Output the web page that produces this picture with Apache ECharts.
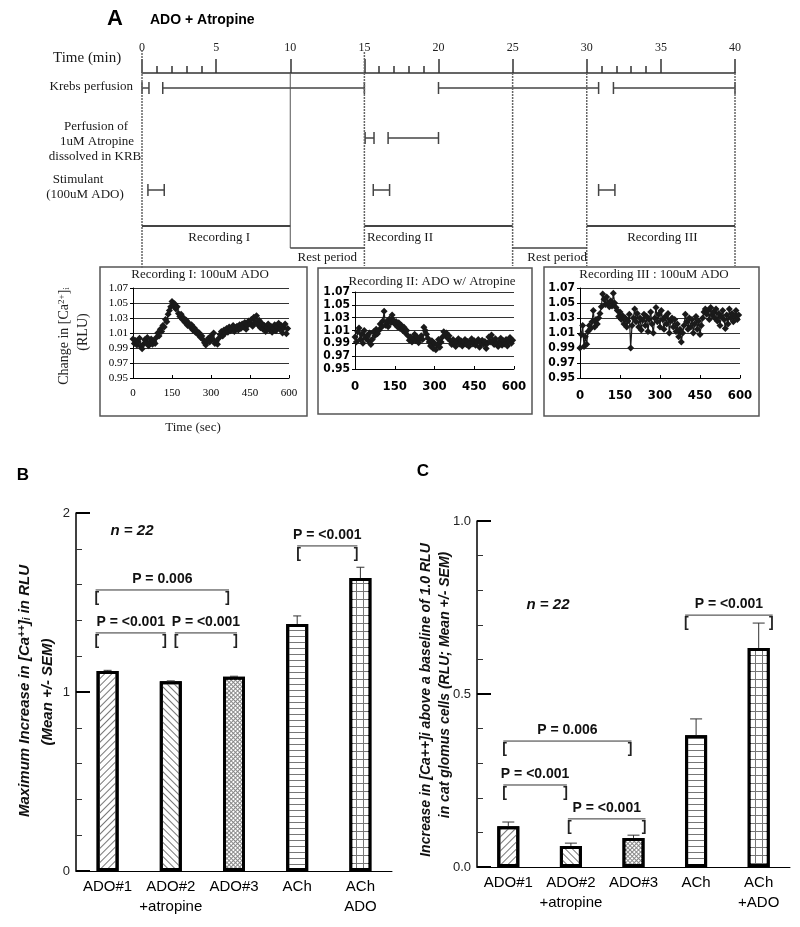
<!DOCTYPE html>
<html><head><meta charset="utf-8">
<script src="https://cdn.jsdelivr.net/npm/echarts@6/dist/echarts.min.js"></script>
<style>html,body{margin:0;padding:0;background:#fff}#c{width:800px;height:927px}</style>
</head><body><div id="c"></div>
<script>
// ================= DATA =================
// Panel A timeline (minutes)
const timelineMinorTicks = [1,2,3,4,16,17,18,19,31,32,33,34];
const krebsSegments = [[0,0.47],[1.4,15],[20,30.8],[31.8,40]];
const atropineSegments = [[15.05,15.65],[16.6,20]];
const stimulantSegments = [[0.4,1.5],[15.6,16.7],[30.8,31.9]];
const recordingPeriods = [[0,10],[15,25],[30,40]];
const restPeriods = [[10,15],[25,30]];
const recordingNames = ['Recording I','Recording II','Recording III'];
const restName = 'Rest period';
const insetTitles = ['Recording I: 100uM ADO','Recording II: ADO w/ Atropine','Recording III : 100uM ADO'];
// Inset recordings: RLU sampled every 5 s, 0..595 s
const sampleIntervalSec = 5;
const rec1 = [1.002,0.996,1.000,0.994,0.998,1.003,0.992,0.989,0.995,1.001,0.997,1.004,0.993,0.998,1.002,0.995,0.999,0.996,
 1.004,1.010,1.006,1.015,1.012,1.020,1.018,1.028,1.025,1.035,1.040,1.045,
 1.052,1.046,1.049,1.042,1.045,1.036,
 1.032,1.035,1.028,1.030,1.024,1.027,1.020,1.023,1.018,1.021,1.014,1.017,1.011,1.013,1.008,1.010,1.004,1.006,1.001,0.997,
 0.994,0.999,1.003,0.998,1.006,1.002,1.010,0.996,0.999,0.995,
 1.003,1.008,1.012,1.006,1.014,1.010,1.016,1.011,1.018,1.013,1.015,1.020,1.012,1.017,
 1.019,1.014,1.021,1.016,1.022,1.018,1.024,1.015,1.020,1.026,1.022,1.028,1.019,1.031,1.024,1.033,1.021,1.027,1.017,1.023,
 1.015,1.020,1.012,1.018,1.022,1.014,1.019,1.011,1.016,1.021,1.013,1.018,1.023,1.015,1.020,1.010,1.017,1.022,1.009,1.016];
const rec2 = [1.000,0.992,1.008,1.014,0.996,1.004,0.990,1.010,0.998,1.002,0.994,1.006,0.988,0.996,1.008,1.002,1.012,1.005,
 1.010,1.020,1.015,1.025,1.040,1.018,1.024,1.016,1.028,1.022,1.034,1.026,
 1.020,1.024,1.016,1.022,1.013,1.018,1.010,1.015,1.006,1.010,
 1.002,0.995,1.000,0.992,0.998,1.004,0.994,1.000,0.991,0.997,1.002,0.996,
 1.015,1.010,1.004,0.998,
 0.992,0.986,0.994,0.982,0.990,0.980,0.988,0.996,0.984,0.992,
 1.000,1.008,1.003,1.006,0.998,1.002,
 0.994,0.988,0.996,0.990,0.985,0.993,0.997,0.989,0.994,0.986,0.992,0.996,0.988,0.993,0.985,0.991,0.997,0.989,0.994,0.987,
 0.992,0.996,0.984,0.990,0.995,0.988,0.993,0.982,0.990,1.000,0.992,1.003,0.995,0.988,0.997,0.990,0.985,0.993,0.998,0.987,
 0.994,0.989,0.996,0.986,0.992,0.999,0.990,0.995];
const rec3 = [0.990,1.008,1.020,0.992,1.005,0.995,
 1.012,1.020,1.016,1.025,1.040,1.018,1.028,1.022,1.030,1.036,1.045,1.062,
 1.055,1.048,1.058,1.050,1.045,1.053,1.046,1.063,1.050,1.044,
 1.040,1.032,1.038,1.028,1.033,1.022,1.030,1.018,1.026,1.035,
 0.990,1.020,
 1.030,1.042,1.025,1.036,1.018,1.030,1.014,1.027,1.035,1.020,1.032,1.012,1.028,1.038,1.022,1.010,1.030,1.044,1.025,1.035,
 1.018,1.040,1.028,1.015,1.032,1.022,1.036,1.010,1.026,1.030,1.018,1.028,1.012,1.022,1.005,1.015,0.998,1.010,1.020,1.035,
 1.025,1.015,1.030,1.018,1.028,1.010,1.022,1.032,1.015,1.026,1.008,1.020,1.030,1.038,1.042,1.035,1.040,1.028,1.044,1.034,
 1.038,1.030,1.042,1.026,1.036,1.020,1.032,1.040,1.028,1.016,1.034,1.022,1.042,1.030,1.036,1.025,1.033,1.040,1.028,1.034];

// Panel B
const barCategoriesB = ['ADO#1','ADO#2\n+atropine','ADO#3','ACh','ACh\nADO'];
const barValuesB = [1.117, 1.060, 1.085, 1.380, 1.637];
const barErrB = [0.004, 0.002, 0.003, 0.045, 0.060];
const sigB = [
  {from:0, to:2, y:1.57,  text:'P = 0.006'},
  {from:0, to:1, y:1.33,  text:'P = <0.001'},
  {from:1, to:2, y:1.33,  text:'P = <0.001'},
  {from:3, to:4, y:1.816, text:'P = <0.001'}
];
// Panel C
const barCategoriesC = ['ADO#1','ADO#2\n+atropine','ADO#3','ACh','ACh\n+ADO'];
const barValuesC = [0.118, 0.061, 0.084, 0.381, 0.633];
const barErrC = [0.012, 0.008, 0.008, 0.047, 0.072];
const sigC = [
  {from:0, to:2, y:0.364, text:'P = 0.006'},
  {from:0, to:1, y:0.237, text:'P = <0.001'},
  {from:1, to:2, y:0.139, text:'P = <0.001'},
  {from:3, to:4, y:0.728, text:'P = <0.001'}
];
const sampleSize = 'n = 22';

// ================= STYLE / LAYOUT =================
const SERIF = '"Liberation Serif","Times New Roman",serif';
const SANS = '"Liberation Sans",Arial,sans-serif';
const NARROW = '"Liberation Sans Narrow","Arial Narrow","DejaVu Sans Condensed",sans-serif';
const INK = '#1a1a1a';
const ROW = {krebs:1.5, atropine:6.5, stimulant:11.7, rec:15.3, rest:17.5, recLabel:16.5, restLabel:18.5};
const recLabelX = [5.2, 17.4, 35.1];
const restLabelX = [12.5, 28.0];
const guides = [[0,-2.3,19.5,1],[10,0,17.5,0],[15,-2.1,19.3,1],[25,0,19.3,1],[30,0,19.3,1],[40,0,19.3,1]];
const bracketOffB = [[-12,-5],[-12,-5],[4,3],[0,-3]];
const bracketOffC = [[-5,-2],[-5,-4],[-3,12],[-11,14]];

const PAT = [
  {color:'#fff', decal:{symbol:'rect', symbolSize:1, dashArrayX:[1,0], dashArrayY:[1,4], rotation:-Math.PI/4, color:'#777'}},
  {color:'#fff', decal:{symbol:'rect', symbolSize:1, dashArrayX:[1,0], dashArrayY:[1,4], rotation:Math.PI/4, color:'#777'}},
  {color:'#888', decal:{symbol:'rect', symbolSize:1, dashArrayX:[2,1], dashArrayY:[2,1], rotation:Math.PI/4, color:'#fff'}},
  {color:'#fff', decal:{symbol:'rect', symbolSize:1, dashArrayX:[1,0], dashArrayY:[1,5], color:'#777'}},
  {color:'#777', decal:{symbol:'rect', symbolSize:1, dashArrayX:[6,1], dashArrayY:[7,1], color:'#fff'}}
];

function timeSeries(arr){ return arr.map((v,i)=>[i*sampleIntervalSec, v]); }

function segRender(params, api){
  const a = api.coord([api.value(0), api.value(2)]);
  const b = api.coord([api.value(1), api.value(2)]);
  const h = 6, st = {stroke:'#444', lineWidth:1.5};
  return {type:'group', children:[
    {type:'line', shape:{x1:a[0],y1:a[1],x2:b[0],y2:b[1]}, style:st},
    {type:'line', shape:{x1:a[0],y1:a[1]-h,x2:a[0],y2:a[1]+h}, style:st},
    {type:'line', shape:{x1:b[0],y1:b[1]-h,x2:b[0],y2:b[1]+h}, style:st}
  ]};
}

function errRender(cap){
  return function(params, api){
    const a = api.coord([api.value(0), api.value(1)]);
    const b = api.coord([api.value(0), api.value(2)]);
    const st = {stroke:'#333', lineWidth:1};
    return {type:'group', children:[
      {type:'line', shape:{x1:a[0],y1:a[1],x2:b[0],y2:b[1]}, style:st},
      {type:'line', shape:{x1:b[0]-cap/2,y1:b[1],x2:b[0]+cap/2,y2:b[1]}, style:st}
    ]};
  };
}

function bracketRender(list, offs){
  return function(params, api){
    const i = params.dataIndex;
    const a = api.coord([api.value(0), api.value(2)]);
    const b = api.coord([api.value(1), api.value(2)]);
    const x1 = a[0] + offs[i][0], x2 = b[0] + offs[i][1], y = a[1];
    const f = 'bold 14px ' + SANS;
    return {type:'group', children:[
      {type:'line', shape:{x1:x1,y1:y,x2:x2,y2:y}, style:{stroke:'#333', lineWidth:1}},
      {type:'text', x:x1-1, y:y+1, style:{text:'[', font:f, fill:'#222', align:'left', verticalAlign:'top'}},
      {type:'text', x:x2+1, y:y+1, style:{text:']', font:f, fill:'#222', align:'right', verticalAlign:'top'}},
      {type:'text', x:(x1+x2)/2, y:y-11, style:{text:list[i].text, font:f, fill:'#111', align:'center', verticalAlign:'middle'}}
    ]};
  };
}

function insetAxes(idx, bold){
  const lab = bold ? {fontFamily:NARROW, fontWeight:'bold'} : {fontFamily:SERIF};
  return {
    x: {gridIndex:idx, type:'value', min:0, max:600, interval:150,
      axisLine:{lineStyle:{color:'#000', width:1}}, axisTick:{inside:true, length:3, lineStyle:{color:'#000'}},
      splitLine:{show:false},
      axisLabel:Object.assign({fontSize: bold?13:11, color:'#000', margin: bold?11:10}, lab)},
    y: {gridIndex:idx, type:'value', min:0.95, max:1.07, interval:0.02,
      axisLine:{show:true, lineStyle:{color:'#000', width:1}}, axisTick:{show:true, length:3, lineStyle:{color:'#000'}},
      splitLine:{show:true, lineStyle:{color:'#333', width:1}},
      axisLabel:Object.assign({fontSize: bold?12:11, color:'#000', margin:5, formatter:v=>v.toFixed(2)}, lab)}
  };
}
const in1 = insetAxes(1,false), in2 = insetAxes(2,true), in3 = insetAxes(3,true);

function lineSeries(xi, yi, arr){
  return {type:'line', xAxisIndex:xi, yAxisIndex:yi, data:timeSeries(arr), symbol:'diamond', symbolSize:7,
    itemStyle:{color:INK}, lineStyle:{color:INK, width:1.2}, z:3};
}

function barAxes(gi, cats, max, interval, fmt){
  return {
    x: {gridIndex:gi, type:'category', data:cats, axisTick:{show:false},
      axisLine:{lineStyle:{color:'#000', width:1}},
      axisLabel:{fontFamily:SANS, fontSize:15, color:'#000', lineHeight:20, margin:6, interval:0}},
    y: {gridIndex:gi, type:'value', min:0, max:max, interval:interval,
      axisLine:{show:true, lineStyle:{color:'#000', width:1.5}},
      axisTick:{show:true, inside:true, length:14, lineStyle:{color:'#000', width:2}},
      minorTick:{show:true, splitNumber:5, length:6, lineStyle:{color:'#333', width:1}},
      splitLine:{show:false},
      axisLabel:{fontFamily:SANS, fontSize:13, color:'#222', margin:6, formatter:fmt}}
  };
}
const bAx = barAxes(4, barCategoriesB, 2, 1, v=>String(v));
const cAx = barAxes(5, barCategoriesC, 1, 0.5, v=>v.toFixed(1));

function barSeries(xi, yi, vals){
  return {type:'bar', xAxisIndex:xi, yAxisIndex:yi, barWidth:22,
    data: vals.map((v,i)=>({value:v, itemStyle:Object.assign({borderColor:'#000', borderWidth:3}, PAT[i])})), z:2};
}

const richCa = {
  sup:{fontSize:9, verticalAlign:'top', fontFamily:SERIF, fill:'#222'},
  sub:{fontSize:9, verticalAlign:'bottom', fontFamily:SERIF, fill:'#222'}
};
const richCaB = {
  sup:{fontSize:10, fontWeight:'bold', fontStyle:'italic', verticalAlign:'top', fontFamily:SANS},
  sub:{fontSize:10, fontWeight:'bold', fontStyle:'italic', verticalAlign:'bottom', fontFamily:SANS}
};

const T = (x,y,text,font,extra)=>({type:'text', x:x, y:y, style:Object.assign({text:text, font:font, fill:'#1a1a1a', align:'center', verticalAlign:'middle'}, extra||{})});
const TR = (x,y,text,font,extra)=>Object.assign(T(x,y,text,font,extra), {rotation:Math.PI/2});
const serif13 = '13px ' + SERIF;

const graphic = [
  T(115,19,'A','bold 22px '+SANS,{fill:'#000'}),
  T(150,20,'ADO + Atropine','bold 14px '+SANS,{align:'left', fill:'#000'}),
  T(53,58,'Time (min)','15px '+SERIF,{align:'left'}),
  T(133,87,'Krebs perfusion',serif13,{align:'right'}),
  T(96,127,'Perfusion of',serif13),
  T(97,142,'1uM Atropine',serif13),
  T(95,157,'dissolved in KRB',serif13),
  T(78,180,'Stimulant',serif13),
  T(85,195,'(100uM ADO)',serif13),
  {type:'rect', shape:{x:100,y:267,width:207,height:149}, style:{fill:null, stroke:'#555', lineWidth:1.5}},
  {type:'rect', shape:{x:318,y:268,width:214,height:146}, style:{fill:null, stroke:'#555', lineWidth:1.5}},
  {type:'rect', shape:{x:544,y:267,width:215,height:149}, style:{fill:null, stroke:'#555', lineWidth:1.5}},
  T(200,275,insetTitles[0],serif13),
  T(432,282,insetTitles[1],serif13),
  T(654,275,insetTitles[2],serif13),
  TR(64,336,'Change in [Ca{sup|2+}]{sub|i}','14px '+SERIF,{fill:'#222', rich:richCa}),
  TR(83,332,'(RLU)','14px '+SERIF,{fill:'#222'}),
  T(193,428,'Time (sec)','13px '+SERIF),
  T(23,475,'B','bold 17px '+SANS,{fill:'#000'}),
  T(423,471,'C','bold 17px '+SANS,{fill:'#000'}),
  T(132,531,sampleSize,'italic bold 15px '+SANS,{fill:'#111'}),
  T(548,605,sampleSize,'italic bold 15px '+SANS,{fill:'#111'}),
  TR(25,691,'Maximum Increase in [Ca{sup|++}]{sub|i} in RLU','italic bold 15px '+SANS,{fill:'#111', rich:richCaB}),
  TR(48,692,'(Mean +/- SEM)','italic bold 15px '+SANS,{fill:'#111'}),
  TR(426,700,'Increase in [Ca++]i above a baseline of 1.0 RLU','italic bold 14px '+SANS,{fill:'#111'}),
  TR(445,685,'in cat glomus cells (RLU; Mean +/- SEM)','italic bold 14px '+SANS,{fill:'#111'})
];

const option = {
  animation:false,
  backgroundColor:'#fff',
  grid:[
    {left:142, top:73, width:593, height:200},
    {left:133, top:288, width:156, height:90},
    {left:355, top:292, width:159, height:77},
    {left:580, top:288, width:160, height:90},
    {left:76, top:513, width:316, height:358},
    {left:477, top:521, width:313, height:346}
  ],
  xAxis:[
    {gridIndex:0, type:'value', position:'top', min:0, max:40, interval:5,
      axisLine:{lineStyle:{color:'#333', width:1.5}}, axisTick:{length:14, lineStyle:{color:'#333', width:1.5}},
      axisLabel:{fontFamily:SERIF, fontSize:12, color:'#222', margin:19}, splitLine:{show:false}},
    {gridIndex:0, type:'value', position:'top', min:0, max:40,
      axisLine:{show:false}, axisTick:{show:true, customValues:timelineMinorTicks, length:7, lineStyle:{color:'#333', width:1.5}},
      axisLabel:{show:false}, splitLine:{show:false}},
    in1.x, in2.x, in3.x, bAx.x, cAx.x
  ],
  yAxis:[
    {gridIndex:0, type:'value', min:0, max:20, inverse:true, show:false},
    in1.y, in2.y, in3.y, bAx.y, cAx.y
  ],
  graphic: graphic,
  series:[
    {type:'custom', xAxisIndex:0, yAxisIndex:0, renderItem:segRender,
      data: [].concat(
        krebsSegments.map(s=>[s[0],s[1],ROW.krebs]),
        atropineSegments.map(s=>[s[0],s[1],ROW.atropine]),
        stimulantSegments.map(s=>[s[0],s[1],ROW.stimulant]))},
    {type:'custom', xAxisIndex:0, yAxisIndex:0,
      renderItem:(p,api)=>{
        const a = api.coord([api.value(0), api.value(1)]), b = api.coord([api.value(0), api.value(2)]);
        const dashed = api.value(3) === 1;
        return {type:'line', shape:{x1:a[0],y1:a[1],x2:b[0],y2:b[1]},
          style:{stroke: dashed?'#666':'#555', lineWidth: dashed?1.5:1, lineDash: dashed?[2,1]:null}};
      }, data: guides},
    {type:'custom', xAxisIndex:0, yAxisIndex:0,
      renderItem:(p,api)=>{
        const lvl = api.value(2);
        const a = api.coord([api.value(0), lvl]), b = api.coord([api.value(1), lvl]);
        const isRec = lvl === ROW.rec;
        const k = p.dataIndex;
        const children = [{type:'line', shape:{x1:a[0],y1:a[1],x2:b[0],y2:b[1]}, style:{stroke:'#444', lineWidth:isRec?2:1.5}}];
        const lab = isRec ? api.coord([recLabelX[k], ROW.recLabel]) : api.coord([restLabelX[k-3], ROW.restLabel]);
        children.push({type:'text', x:lab[0], y:lab[1], style:{text: isRec?recordingNames[k]:restName, font:serif13, fill:'#1a1a1a', align:'center', verticalAlign:'middle'}});
        return {type:'group', children};
      },
      data: [].concat(recordingPeriods.map(r=>[r[0],r[1],ROW.rec]), restPeriods.map(r=>[r[0],r[1],ROW.rest]))},
    lineSeries(2,1,rec1),
    lineSeries(3,2,rec2),
    lineSeries(4,3,rec3),
    barSeries(5,4,barValuesB),
    {type:'custom', xAxisIndex:5, yAxisIndex:4, renderItem:errRender(8), z:3,
      data: barValuesB.map((v,i)=>[i, v, v+barErrB[i]])},
    {type:'custom', xAxisIndex:5, yAxisIndex:4, renderItem:bracketRender(sigB, bracketOffB), z:3,
      data: sigB.map(s=>[s.from, s.to, s.y])},
    barSeries(6,5,barValuesC),
    {type:'custom', xAxisIndex:6, yAxisIndex:5, renderItem:errRender(12), z:3,
      data: barValuesC.map((v,i)=>[i, v, v+barErrC[i]])},
    {type:'custom', xAxisIndex:6, yAxisIndex:5, renderItem:bracketRender(sigC, bracketOffC), z:3,
      data: sigC.map(s=>[s.from, s.to, s.y])}
  ]
};
const chart = echarts.init(document.getElementById('c'), null, {renderer:'canvas', width:800, height:927});
chart.setOption(option);
</script>
</body></html>
